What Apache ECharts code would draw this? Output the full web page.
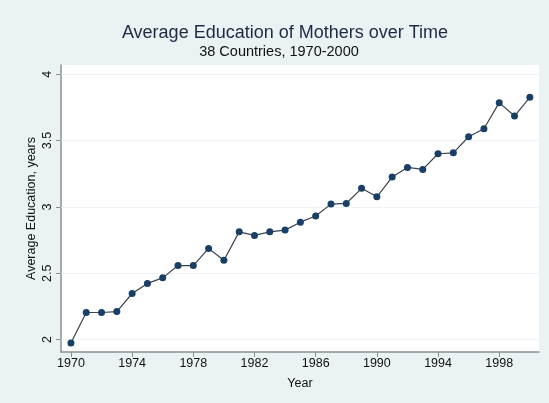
<!DOCTYPE html>
<html>
<head>
<meta charset="utf-8">
<script src="https://cdn.jsdelivr.net/npm/echarts@6/dist/echarts.min.js"></script>
<style>
  html, body { margin: 0; padding: 0; background: #eaf2f3; }
  #chart { width: 549px; height: 403px; }
</style>
</head>
<body>
<div id="chart"></div>
<script>
// data
const years = [1970, 1971, 1972, 1973, 1974, 1975, 1976, 1977, 1978, 1979,
  1980, 1981, 1982, 1983, 1984, 1985, 1986, 1987, 1988, 1989,
  1990, 1991, 1992, 1993, 1994, 1995, 1996, 1997, 1998, 1999, 2000];
const avgEducation = [1.974, 2.204, 2.204, 2.211, 2.347, 2.423, 2.465, 2.558, 2.558, 2.687,
  2.598, 2.812, 2.785, 2.812, 2.825, 2.885, 2.931, 3.021, 3.026, 3.140,
  3.076, 3.225, 3.298, 3.283, 3.401, 3.408, 3.529, 3.589, 3.786, 3.685, 3.826];
const xTicks = [1970, 1974, 1978, 1982, 1986, 1990, 1994, 1998];
const yTicks = [2, 2.5, 3, 3.5, 4];

const chart = echarts.init(document.getElementById('chart'));
const font = 'Liberation Sans, Arial, sans-serif';

chart.setOption({
  backgroundColor: '#eaf2f3',
  animation: false,
  graphic: [
    { type: 'rect', shape: { x: 61, y: 65, width: 478, height: 287 }, style: { fill: '#ffffff' }, z: -10, silent: true },
    { type: 'text', x: 285, y: 33, style: { text: 'Average Education of Mothers over Time', fontSize: 18, fontFamily: font, fill: '#1e2a44', align: 'center', verticalAlign: 'middle' } },
    { type: 'text', x: 279, y: 52, style: { text: '38 Countries, 1970-2000', fontSize: 14.5, fontFamily: font, fill: '#111111', align: 'center', verticalAlign: 'middle' } }
  ],
  grid: { left: 61, right: 10, top: 65, bottom: 51 },
  xAxis: {
    type: 'value',
    min: 1969.35,
    max: 2000.6,
    name: 'Year',
    nameLocation: 'middle',
    nameGap: 25,
    nameMoveOverlap: false,
    nameTextStyle: { fontSize: 12.5, fontFamily: font, color: '#111' },
    axisLine: { onZero: false, lineStyle: { color: '#8a8f94', width: 1.5 } },
    axisTick: { show: true, length: 5, customValues: xTicks, lineStyle: { color: '#8a8f94' } },
    axisLabel: { customValues: xTicks, formatter: v => String(v), fontSize: 12.5, fontFamily: font, color: '#111', margin: 5 },
    splitLine: { show: false }
  },
  yAxis: {
    type: 'value',
    min: 1.906,
    max: 4.07,
    name: 'Average Education, years',
    nameLocation: 'middle',
    nameGap: 23,
    nameMoveOverlap: false,
    nameTextStyle: { fontSize: 12.5, fontFamily: font, color: '#111' },
    axisLine: { show: true, onZero: false, lineStyle: { color: '#8a8f94', width: 1.5 } },
    axisTick: { show: true, length: 5, customValues: yTicks, lineStyle: { color: '#8a8f94' } },
    axisLabel: { customValues: yTicks, rotate: 90, fontSize: 12.5, fontFamily: font, color: '#111', margin: 7 },
    splitLine: { show: false }
  },
  series: [{
    type: 'line',
    data: years.map((y, i) => [y, avgEducation[i]]),
    symbol: 'circle',
    symbolSize: 7,
    lineStyle: { color: '#38444f', width: 1.2 },
    itemStyle: { color: '#1a3f66' },
    markLine: {
      silent: true,
      symbol: 'none',
      label: { show: false },
      lineStyle: { color: '#eef2f4', type: 'solid', width: 1 },
      data: yTicks.map(v => ({ yAxis: v }))
    },
    z: 5
  }]
});
</script>
</body>
</html>
